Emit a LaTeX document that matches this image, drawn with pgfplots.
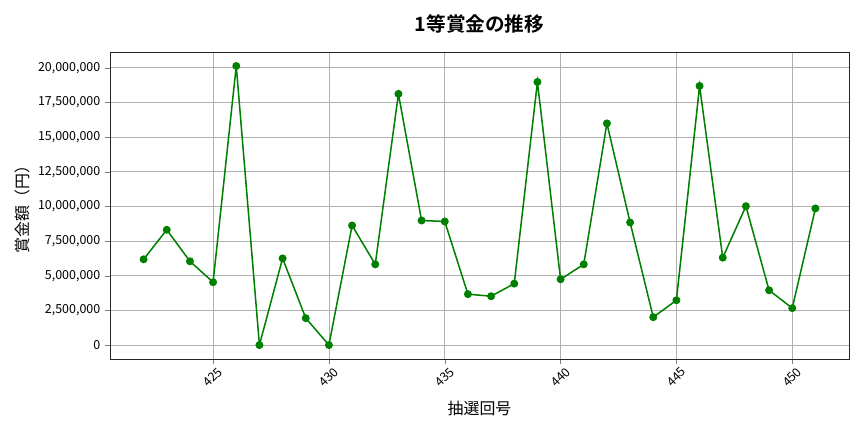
\documentclass[border=0pt]{standalone}
\usepackage{fontspec}
\setmainfont{Noto Sans CJK JP}[BoldFont={Noto Sans CJK JP Bold}]
\usepackage{pgfplots}
\pgfplotsset{compat=1.18}
\definecolor{mplgreen}{RGB}{0,128,0}
\definecolor{gridgray}{RGB}{176,176,176}

\begin{document}
\begin{tikzpicture}
    \useasboundingbox (0,0) rectangle (8.64in,4.32in);
    \begin{axis}[
        at={(1.10in,0.73in)},
        anchor=south west,
        scale only axis,
        width=7.39in,
        height=3.07in,
        xmin=420.55, xmax=452.45,
        ymin=-1006000, ymax=21130000,
        xtick={425,430,435,440,445,450},
        ytick={0,2500000,5000000,7500000,10000000,12500000,15000000,17500000,20000000},
        scaled y ticks=false,
        yticklabel style={/pgf/number format/.cd, fixed, precision=0, 1000 sep={,}},
        /pgf/number format/assume math mode=true,
        tick label style={font=\fontsize{9}{11}\selectfont},
        xticklabel style={anchor=center, yshift=-0.135in, rotate=45},
        tick align=outside,
        major tick length=3.5pt,
        xtick pos=bottom, ytick pos=left,
        grid=major,
        grid style={line width=0.6pt, draw=gridgray},
        axis line style={line width=0.6pt, draw=black!85},
        every axis title shift=0pt,
        title={1等賞金の推移},
        title style={at={(axis description cs:0.5,1.0912)}, anchor=center, font=\bfseries\fontsize{14.2}{17}\selectfont},
        xlabel={抽選回号},
        xlabel style={at={(axis description cs:0.5,-0.1596)}, anchor=center, font=\fontsize{11.5}{14}\selectfont},
        ylabel={賞金額（円）},
        ylabel style={at={(axis description cs:-0.1191,0.5)}, anchor=center, font=\fontsize{11.5}{14}\selectfont},
    ]
    % 1等賞金 per 抽選回号
    \addplot[
        color=mplgreen,
        line width=1.1pt,
        mark=*,
        mark size=2.3pt,
        mark options={fill=mplgreen, draw=mplgreen},
        ]
        coordinates {
        (422, 6180000)
        (423, 8310000)
        (424, 6040000)
        (425, 4530000)
        (426, 20120000)
        (427, 0)
        (428, 6250000)
        (429, 1940000)
        (430, 0)
        (431, 8620000)
        (432, 5820000)
        (433, 18110000)
        (434, 8980000)
        (435, 8910000)
        (436, 3670000)
        (437, 3520000)
        (438, 4430000)
        (439, 18970000)
        (440, 4740000)
        (441, 5820000)
        (442, 15980000)
        (443, 8840000)
        (444, 2010000)
        (445, 3230000)
        (446, 18680000)
        (447, 6300000)
        (448, 10010000)
        (449, 3950000)
        (450, 2660000)
        (451, 9850000)
        };
    \end{axis}
\end{tikzpicture}
\end{document}
